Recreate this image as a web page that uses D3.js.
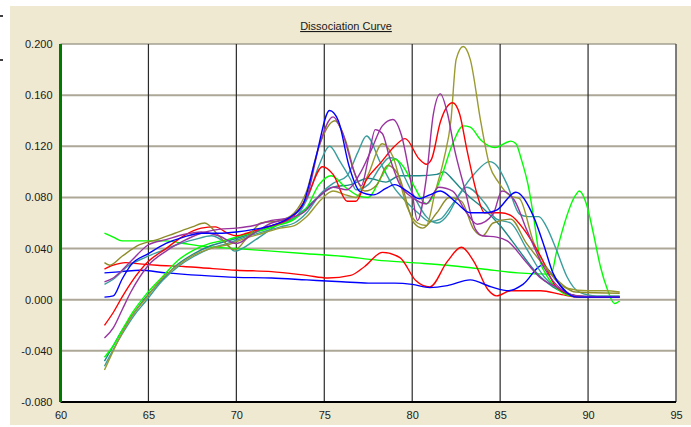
<!DOCTYPE html>
<html>
<head>
<meta charset="utf-8">
<script src="https://cdn.jsdelivr.net/npm/d3@7"></script>
<style>
body { margin: 0; background: #ffffff; }
svg { display: block; }
</style>
</head>
<body>
<script>
// axis / text data
var chartTitle = "Dissociation Curve";
var xTicks = [60, 65, 70, 75, 80, 85, 90, 95];
var yTicks = [-0.08, -0.04, 0, 0.04, 0.08, 0.12, 0.16, 0.2];

// each curve: [temperature, derivative]
var greenFlat = [[62.5,0.052],[63,0.049],[63.5,0.046],[64.5,0.046],[66,0.046],[67,0.044],[68,0.042],[70,0.040],[72,0.038],[74,0.036],[76,0.034],[78,0.031],[80,0.029],[82,0.027],[84,0.024],[86,0.021],[87.9,0.020],[88.2,0.037],[89.3,0.082],[89.5,0.085],[89.9,0.075],[90.3,0.052],[90.7,0.026],[91.1,0.008],[91.5,-0.003],[91.8,-0.001]];
var redFlat = [[62.5,0.024],[63,0.027],[63.7,0.029],[64.5,0.028],[65.5,0.027],[67,0.026],[68,0.025],[70,0.023],[72,0.022],[74,0.019],[75.2,0.017],[76.5,0.019],[77.3,0.026],[78.3,0.037],[79.3,0.033],[80.2,0.015],[81,0.010],[82,0.030],[82.8,0.041],[83.5,0.030],[84.3,0.008],[84.8,0.003],[85.6,0.007],[87.3,0.007],[88.5,0.004],[89.5,0.002],[91.8,0.002]];
var blueFlat = [[62.5,0.021],[63.5,0.022],[64.5,0.023],[66,0.021],[68,0.019],[70,0.0175],[72,0.017],[74,0.0155],[76,0.014],[77.5,0.013],[79,0.013],[80,0.012],[81,0.0095],[82,0.011],[83.3,0.0155],[84.5,0.010],[85.5,0.007],[86.3,0.012],[87.4,0.027],[88.2,0.015],[89,0.004],[90,0.002],[91.8,0.002]];

var blueHigh = [[62.5,0.002],[63,0.003],[63.5,0.016],[64,0.027],[65,0.036],[66,0.044],[67,0.049],[68,0.052],[69,0.052],[70,0.053],[71,0.055],[72,0.058],[73,0.064],[73.8,0.075],[74.5,0.110],[75.3,0.148],[75.8,0.140],[76.4,0.105],[77,0.085],[77.8,0.082],[78.5,0.087],[79,0.090],[79.7,0.085],[80.4,0.079],[81,0.082],[81.6,0.085],[82.5,0.076],[83.3,0.068],[84.2,0.068],[84.8,0.070],[85.9,0.084],[86.9,0.065],[87.5,0.042],[88,0.021],[88.6,0.008],[89.4,0.002],[90.5,0.002],[91.8,0.002]];
var purpleA = [[62.5,0.014],[63,0.017],[64,0.030],[65,0.043],[66,0.047],[67,0.051],[68,0.053],[69,0.050],[70,0.044],[71,0.052],[72,0.060],[73,0.064],[74,0.080],[74.7,0.120],[75.5,0.143],[76,0.132],[76.7,0.100],[77.1,0.089],[77.5,0.110],[77.9,0.133],[78.3,0.130],[78.7,0.112],[79.3,0.090],[80,0.080],[80.8,0.075],[81.5,0.088],[82.3,0.085],[83,0.070],[83.7,0.059],[84.6,0.067],[85.1,0.085],[85.8,0.078],[86.5,0.055],[87.5,0.025],[88.5,0.008],[89.5,0.003],[91.8,0.002]];
var purpleB = [[62.5,-0.030],[63,-0.022],[63.5,-0.008],[64,0.006],[65,0.027],[66,0.038],[67,0.046],[68,0.052],[69,0.055],[70,0.056],[71,0.058],[72,0.062],[73,0.064],[73.8,0.068],[74.5,0.078],[75.5,0.088],[76.3,0.086],[77,0.098],[77.7,0.118],[78.3,0.136],[78.9,0.141],[79.4,0.128],[79.9,0.094],[80.3,0.062],[80.8,0.095],[81.2,0.145],[81.6,0.161],[82,0.146],[82.4,0.118],[83,0.086],[83.6,0.055],[84,0.050],[84.8,0.049],[85.4,0.046],[86.5,0.029],[87.3,0.017],[88.2,0.010],[89,0.004],[90,0.002],[91.8,0.002]];
var oliveA = [[62.5,0.029],[62.8,0.027],[63.5,0.034],[64.5,0.043],[65.5,0.047],[66.5,0.052],[67.5,0.057],[68.2,0.060],[69,0.050],[69.9,0.039],[70.7,0.050],[71.4,0.060],[72.5,0.062],[73.3,0.068],[74,0.085],[74.7,0.120],[75.6,0.140],[76.2,0.125],[76.8,0.096],[77.3,0.085],[78,0.090],[78.6,0.105],[79.2,0.098],[80.1,0.060],[80.6,0.056],[81.4,0.068],[82.1,0.080],[82.8,0.077],[83.5,0.055],[84,0.050],[84.6,0.060],[85.6,0.063],[86.5,0.044],[87.3,0.030],[88.2,0.016],[89.3,0.006],[91.8,0.005]];
var oliveB = [[62.5,-0.055],[63,-0.040],[63.5,-0.026],[64.2,-0.010],[64.8,0.000],[65.8,0.017],[66.7,0.027],[67.6,0.035],[68.5,0.040],[69.5,0.043],[70.5,0.048],[71.5,0.052],[72.5,0.056],[73.3,0.058],[74,0.065],[74.8,0.078],[75.5,0.085],[76.2,0.082],[76.8,0.080],[77.5,0.098],[78.3,0.122],[78.9,0.112],[79.7,0.073],[80.3,0.060],[80.8,0.058],[81.3,0.084],[81.8,0.110],[82.2,0.140],[82.5,0.188],[82.9,0.198],[83.3,0.188],[83.9,0.139],[84.4,0.105],[84.9,0.092],[85.6,0.081],[86.1,0.079],[86.9,0.045],[87.7,0.024],[88.8,0.009],[90,0.007],[91,0.007],[91.8,0.006]];
var redHigh = [[62.5,-0.020],[63,-0.010],[63.5,0.002],[64,0.013],[65,0.030],[66,0.040],[67,0.050],[68,0.056],[68.8,0.057],[69.5,0.052],[70,0.050],[70.6,0.052],[71.5,0.056],[72.5,0.060],[73.3,0.066],[74,0.080],[74.9,0.104],[75.5,0.098],[76.3,0.077],[76.8,0.077],[77.4,0.094],[78.2,0.107],[79,0.120],[79.6,0.126],[80.4,0.110],[80.8,0.106],[81.1,0.110],[81.6,0.139],[82.3,0.154],[82.7,0.145],[83.1,0.118],[83.7,0.082],[84.1,0.068],[85,0.068],[85.6,0.066],[86.4,0.054],[87.3,0.034],[88.2,0.010],[89.3,0.003],[90.5,0.002],[91.8,0.002]];
var greenHigh = [[62.5,-0.045],[63,-0.036],[63.5,-0.024],[64,-0.012],[64.8,0.003],[65.8,0.018],[66.7,0.031],[67.6,0.039],[68.5,0.044],[69.5,0.047],[70.5,0.051],[71.4,0.054],[72.3,0.058],[73.3,0.063],[74,0.072],[74.7,0.090],[75.4,0.097],[76.2,0.088],[77,0.081],[77.5,0.080],[78.2,0.095],[79,0.110],[79.5,0.104],[80.1,0.089],[80.8,0.075],[81.6,0.094],[82.3,0.122],[82.9,0.136],[83.3,0.135],[83.9,0.125],[84.7,0.119],[85.6,0.124],[85.9,0.122],[86.2,0.110],[86.6,0.089],[86.9,0.065],[87.3,0.029],[87.6,0.020],[88.3,0.008],[89,0.003],[90,0.002],[91.8,0.002]];
var tealA = [[62.5,0.012],[63,0.016],[63.8,0.026],[64.8,0.033],[65.7,0.038],[66.6,0.043],[67.6,0.047],[68.6,0.050],[69.5,0.043],[69.9,0.038],[71.1,0.047],[72.4,0.059],[73.3,0.064],[74,0.078],[74.7,0.105],[75.3,0.120],[75.9,0.108],[76.5,0.094],[76.8,0.086],[77.5,0.090],[78.2,0.104],[78.7,0.111],[79.1,0.110],[79.6,0.095],[80.1,0.081],[80.8,0.065],[81.4,0.060],[82.1,0.068],[82.5,0.078],[83.1,0.088],[84.1,0.076],[84.8,0.063],[85.6,0.060],[86.5,0.040],[87.5,0.018],[88.5,0.007],[89.5,0.003],[91.8,0.002]];
var tealB = [[62.5,-0.052],[63,-0.039],[63.5,-0.027],[64.2,-0.012],[64.8,-0.002],[65.8,0.015],[66.7,0.026],[67.6,0.034],[68.5,0.040],[69.5,0.044],[70.5,0.049],[71.5,0.053],[72.5,0.057],[73.3,0.060],[74,0.068],[74.8,0.083],[75.5,0.091],[76.3,0.097],[76.9,0.115],[77.4,0.128],[78.2,0.107],[78.9,0.089],[79.7,0.076],[80.4,0.067],[81,0.061],[81.6,0.063],[82.2,0.073],[83.5,0.098],[84.4,0.108],[84.8,0.105],[85.4,0.090],[86.1,0.067],[86.6,0.065],[87.2,0.065],[87.6,0.058],[88.2,0.039],[88.8,0.018],[89.5,0.006],[90.5,0.003],[91.8,0.003]];
var tealDark = [[62.5,-0.048],[63,-0.036],[63.5,-0.024],[64.2,-0.010],[64.8,0.001],[65.8,0.016],[66.7,0.028],[67.6,0.036],[68.5,0.042],[69.5,0.046],[70.5,0.050],[71.5,0.055],[72.5,0.060],[73.3,0.064],[74,0.072],[74.8,0.082],[75.5,0.088],[76.5,0.090],[77.5,0.095],[78.5,0.092],[79.3,0.097],[80.4,0.097],[81.4,0.098],[81.8,0.100],[82.3,0.094],[82.7,0.088],[83.3,0.080],[84,0.072],[85,0.058],[86,0.040],[87,0.022],[88,0.010],[89,0.004],[90,0.002],[91.8,0.002]];

var seriesList = [greenFlat, redFlat, blueFlat, tealDark, tealB, tealA, greenHigh, oliveB, redHigh, oliveA, purpleB, purpleA, blueHigh];
var seriesColours = ["#00ff00", "#ff0000", "#0000ff", "#1f8787", "#3a9d9d", "#3a9d9d", "#00ff00", "#9a9a30", "#ff0000", "#8e8c2a", "#9933a0", "#9933a0", "#0000ff"];

var width = 691, height = 427;

var svg = d3.select("body").append("svg")
	.attr("width", width)
	.attr("height", height);

// beige panel
svg.append("rect")
	.attr("x", 10).attr("y", 6)
	.attr("width", width - 10).attr("height", 419)
	.attr("fill", "#efe9d1");

// little marks at the left edge
[16, 60].forEach(function(yy) {
	svg.append("line").attr("x1", 0).attr("x2", 3).attr("y1", yy).attr("y2", yy)
		.attr("stroke", "#000").attr("stroke-width", 1.5);
});

var x = d3.scaleLinear().domain([60, 95]).range([60.5, 676]);
var y = d3.scaleLinear().domain([-0.08, 0.2]).range([402, 44]);

// plot area
svg.append("rect")
	.attr("x", x(60)).attr("y", y(0.2))
	.attr("width", x(95) - x(60)).attr("height", y(-0.08) - y(0.2))
	.attr("fill", "#ffffff");

var grid = svg.append("g");

grid.selectAll("line.h")
	.data(yTicks.filter(function(d) { return d > -0.08 && d < 0.2; }))
	.enter().append("line")
	.attr("x1", x(60)).attr("x2", x(95))
	.attr("y1", function(d) { return y(d); })
	.attr("y2", function(d) { return y(d); })
	.attr("stroke", "#aca797")
	.attr("stroke-width", 2);

grid.append("line")
	.attr("x1", x(60)).attr("x2", x(95))
	.attr("y1", y(0.2)).attr("y2", y(0.2))
	.attr("stroke", "#a39f92").attr("stroke-width", 1.5);

grid.selectAll("line.v")
	.data(xTicks.filter(function(d) { return d > 60; }))
	.enter().append("line")
	.attr("x1", function(d) { return x(d); })
	.attr("x2", function(d) { return x(d); })
	.attr("y1", y(0.2)).attr("y2", y(-0.08))
	.attr("stroke", function(d) { return d === 95 ? "#555" : "#2a2a2a"; })
	.attr("stroke-width", function(d) { return d === 95 ? 1.5 : 1.2; });

// curves
var line = d3.line()
	.x(function(d) { return x(d[0]); })
	.y(function(d) { return y(d[1]); })
	.curve(d3.curveMonotoneX);

svg.append("g")
	.selectAll("path")
	.data(seriesList)
	.enter().append("path")
	.attr("d", line)
	.attr("fill", "none")
	.attr("stroke", function(d, i) { return seriesColours[i]; })
	.attr("stroke-width", 1.4)
	.attr("stroke-linejoin", "round");

// axis lines
svg.append("line")
	.attr("x1", x(60)).attr("x2", x(95))
	.attr("y1", y(-0.08)).attr("y2", y(-0.08))
	.attr("stroke", "#000").attr("stroke-width", 2);

svg.append("line")
	.attr("x1", x(60)).attr("x2", x(60))
	.attr("y1", y(0.2)).attr("y2", y(-0.08))
	.attr("stroke", "#007a00").attr("stroke-width", 3);

// tick labels
var fmt = d3.format(".3f");
var yAxis = svg.append("g")
	.attr("transform", "translate(" + x(60) + ",0)")
	.call(d3.axisLeft(y).tickValues(yTicks).tickSize(0).tickPadding(8)
		.tickFormat(function(d) { return fmt(d).replace("\u2212", "-"); }));
yAxis.select(".domain").remove();

var xAxis = svg.append("g")
	.attr("transform", "translate(0," + y(-0.08) + ")")
	.call(d3.axisBottom(x).tickValues(xTicks).tickSize(0).tickPadding(9)
		.tickFormat(d3.format("d")));
xAxis.select(".domain").remove();

svg.selectAll(".tick text")
	.attr("fill", "#1a1a1a")
	.style("font-family", "'Liberation Sans', Arial, sans-serif")
	.style("font-size", "11px");

// title
svg.append("text")
	.attr("x", 346).attr("y", 30)
	.attr("text-anchor", "middle")
	.attr("fill", "#1a1a1a")
	.style("font-family", "'Liberation Sans', Arial, sans-serif")
	.style("font-size", "11px")
	.style("text-decoration", "underline")
	.text(chartTitle);
</script>
</body>
</html>
